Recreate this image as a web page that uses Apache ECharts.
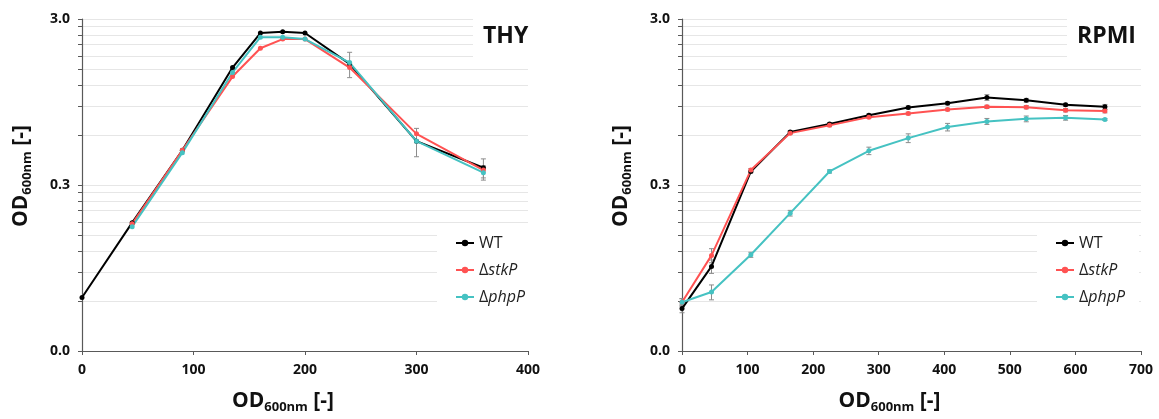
<!DOCTYPE html>
<html>
<head>
<meta charset="utf-8">
<title>OD600 growth curves - THY / RPMI</title>
<script src="https://cdn.jsdelivr.net/npm/echarts@6/dist/echarts.min.js"></script>
<style>
    html, body { margin: 0; padding: 0; background: #fff; }
    #chart { width: 1159px; height: 419px; }
</style>
</head>
<body>
<div id="chart"></div>
<script>
// THY panel (left)
var thyTimeWT = [0, 45, 90, 135, 160, 180, 200, 240, 300, 360];
var thyTimeMut = [45, 90, 135, 160, 180, 200, 240, 300, 360];
var thyWT = [0.063, 0.178, 0.486, 1.53, 2.47, 2.51, 2.47, 1.61, 0.551, 0.381];
var thyStkP = [0.175, 0.486, 1.35, 2.0, 2.27, 2.27, 1.53, 0.61, 0.369];
var thyPhpP = [0.168, 0.47, 1.43, 2.33, 2.33, 2.27, 1.64, 0.551, 0.356];
var thyErrWT = [0, 0, 0, 0, 0, 0, 0, 0.28, 0.107, 0.05];
var thyErrStkP = [0, 0, 0, 0, 0, 0, 0, 0, 0];
var thyErrPhpP = [0, 0, 0, 0, 0, 0, 0, 0, 0.035];

// RPMI panel (right)
var rpmiTime = [0, 45, 105, 165, 225, 285, 345, 405, 465, 525, 585, 645];
var rpmiWT = [0.054, 0.097, 0.362, 0.625, 0.70, 0.79, 0.879, 0.933, 1.01, 0.972, 0.912, 0.887];
var rpmiStkP = [0.059, 0.113, 0.369, 0.616, 0.686, 0.769, 0.809, 0.855, 0.887, 0.883, 0.847, 0.836];
var rpmiPhpP = [0.059, 0.068, 0.114, 0.203, 0.362, 0.482, 0.575, 0.67, 0.725, 0.751, 0.762, 0.744];
var rpmiErrWT = [0.003, 0.009, 0.006, 0.012, 0.012, 0.015, 0.02, 0.02, 0.04, 0.025, 0.02, 0.03];
var rpmiErrStkP = [0.003, 0.011, 0.008, 0.01, 0.012, 0.012, 0.015, 0.015, 0.02, 0.02, 0.02, 0.02];
var rpmiErrPhpP = [0.003, 0.007, 0.004, 0.008, 0.008, 0.025, 0.035, 0.035, 0.03, 0.03, 0.025, 0.01];

// axis ticks / labels
var yTicks = [0.03, 0.06, 0.09, 0.12, 0.15, 0.18, 0.21, 0.24, 0.27,
              0.3, 0.6, 0.9, 1.2, 1.5, 1.8, 2.1, 2.4, 2.7, 3.0];
var yLabels = [0.03, 0.3, 3.0];
var names = ['WT', '\u0394stkP', '\u0394phpP'];
var colors = ['#000000', '#ff5252', '#45c2c2'];

var FONT = 'Open Sans';
var AXIS_COLOR = '#595959';

var chart = echarts.init(document.getElementById('chart'));

var nameRich = {
    a: { fontSize: 21, fontWeight: 'bold', color: '#111', fontFamily: FONT, lineHeight: 26 },
    s: { fontSize: 13, fontWeight: 'bold', color: '#111', fontFamily: FONT, lineHeight: 14,
         padding: [12, 0, 0, 0], verticalAlign: 'bottom' }
};
var axisName = '{a|OD}{s|600nm}{a| [-]}';

function makeX(idx, max) {
    return {
        type: 'value', gridIndex: idx, min: 0, max: max, interval: 100,
        name: axisName, nameLocation: 'middle', nameGap: 37,
        nameTextStyle: { rich: nameRich, padding: [0, 44, 0, 0] },
        axisLine: { lineStyle: { color: AXIS_COLOR, width: 1.2 } },
        axisTick: { show: true, length: 4, lineStyle: { color: AXIS_COLOR } },
        axisLabel: { fontSize: 14, fontWeight: 'bold', color: '#111', fontFamily: FONT, margin: 12 },
        splitLine: { show: false }
    };
}

function makeY(idx) {
    return {
        type: 'log', logBase: 10, gridIndex: idx, min: 0.03, max: 3,
        name: axisName, nameLocation: 'middle', nameGap: 48,
        nameTextStyle: { rich: nameRich, padding: [0, 0, 0, 18] },
        axisLine: { show: true, lineStyle: { color: AXIS_COLOR, width: 1.2 } },
        axisTick: { show: true, length: 4, customValues: yTicks, lineStyle: { color: AXIS_COLOR } },
        axisLabel: {
            customValues: yLabels, fontSize: 14, fontWeight: 'bold', color: '#111', fontFamily: FONT, margin: 12,
            formatter: function(v) { return Number(v).toFixed(1); }
        },
        splitLine: { show: true, lineStyle: { color: '#e6e6e6', width: 1 } },
        minorTick: { show: false }
    };
}

function lineSeries(name, xs, ys, color, idx) {
    return {
        type: 'line', name: name, xAxisIndex: idx, yAxisIndex: idx,
        data: xs.map(function(x, i) { return [x, ys[i]]; }),
        symbol: 'circle', symbolSize: 5, showSymbol: true,
        lineStyle: { width: 2, color: color },
        itemStyle: { color: color },
        z: 3, animation: false
    };
}

// error bars, values +/- sd
function errSeries(xs, ys, errs, idx) {
    var d = [];
    xs.forEach(function(x, i) {
        if (errs[i] > 0) d.push([x, ys[i] - errs[i], ys[i] + errs[i]]);
    });
    return {
        type: 'custom', name: 'err', xAxisIndex: idx, yAxisIndex: idx,
        data: d, encode: { x: 0, y: [1, 2] }, silent: true, z: 2, animation: false,
        renderItem: function(params, api) {
            var x = api.value(0);
            var lo = api.coord([x, api.value(1)]);
            var hi = api.coord([x, api.value(2)]);
            var w = 2.5;
            var st = { stroke: '#8c8c8c', lineWidth: 1 };
            return {
                type: 'group',
                children: [
                    { type: 'line', shape: { x1: lo[0], y1: lo[1], x2: hi[0], y2: hi[1] }, style: st },
                    { type: 'line', shape: { x1: lo[0] - w, y1: lo[1], x2: lo[0] + w, y2: lo[1] }, style: st },
                    { type: 'line', shape: { x1: hi[0] - w, y1: hi[1], x2: hi[0] + w, y2: hi[1] }, style: st }
                ]
            };
        }
    };
}

function makeLegend(left) {
    return {
        data: names, orient: 'vertical', left: left, top: 228,
        backgroundColor: '#fff', padding: [6, 14, 6, 18],
        itemGap: 9, itemWidth: 18, itemHeight: 8,
        textStyle: {
            fontSize: 16, color: '#222', fontFamily: FONT, lineHeight: 18,
            rich: {
                d: { fontSize: 16, color: '#222', fontFamily: FONT, lineHeight: 18 },
                i: { fontSize: 16, color: '#222', fontFamily: FONT, lineHeight: 18, fontStyle: 'italic' }
            }
        },
        formatter: function(n) {
            return n === 'WT' ? n : '{d|\u0394}{i|' + n.slice(1) + '}';
        }
    };
}

var option = {
    backgroundColor: '#fff',
    animation: false,
    title: [
        { text: 'THY', left: 473, top: 8, backgroundColor: '#fff', padding: [14, 12, 12, 10],
          textStyle: { fontSize: 23, fontWeight: 'bold', color: '#111', fontFamily: FONT, lineHeight: 28 } },
        { text: 'RPMI', left: 1067, top: 8, backgroundColor: '#fff', padding: [14, 12, 12, 10],
          textStyle: { fontSize: 23, fontWeight: 'bold', color: '#111', fontFamily: FONT, lineHeight: 28 } }
    ],
    legend: [makeLegend(437), makeLegend(1037)],
    grid: [
        { left: 82, top: 19, width: 446, height: 334 },
        { left: 682, top: 19, width: 459, height: 334 }
    ],
    xAxis: [makeX(0, 400), makeX(1, 700)],
    yAxis: [makeY(0), makeY(1)],
    series: [
        errSeries(thyTimeWT, thyWT, thyErrWT, 0),
        errSeries(thyTimeMut, thyStkP, thyErrStkP, 0),
        errSeries(thyTimeMut, thyPhpP, thyErrPhpP, 0),
        lineSeries(names[0], thyTimeWT, thyWT, colors[0], 0),
        lineSeries(names[1], thyTimeMut, thyStkP, colors[1], 0),
        lineSeries(names[2], thyTimeMut, thyPhpP, colors[2], 0),
        errSeries(rpmiTime, rpmiWT, rpmiErrWT, 1),
        errSeries(rpmiTime, rpmiStkP, rpmiErrStkP, 1),
        errSeries(rpmiTime, rpmiPhpP, rpmiErrPhpP, 1),
        lineSeries(names[0], rpmiTime, rpmiWT, colors[0], 1),
        lineSeries(names[1], rpmiTime, rpmiStkP, colors[1], 1),
        lineSeries(names[2], rpmiTime, rpmiPhpP, colors[2], 1)
    ]
};

chart.setOption(option);
</script>
</body>
</html>
